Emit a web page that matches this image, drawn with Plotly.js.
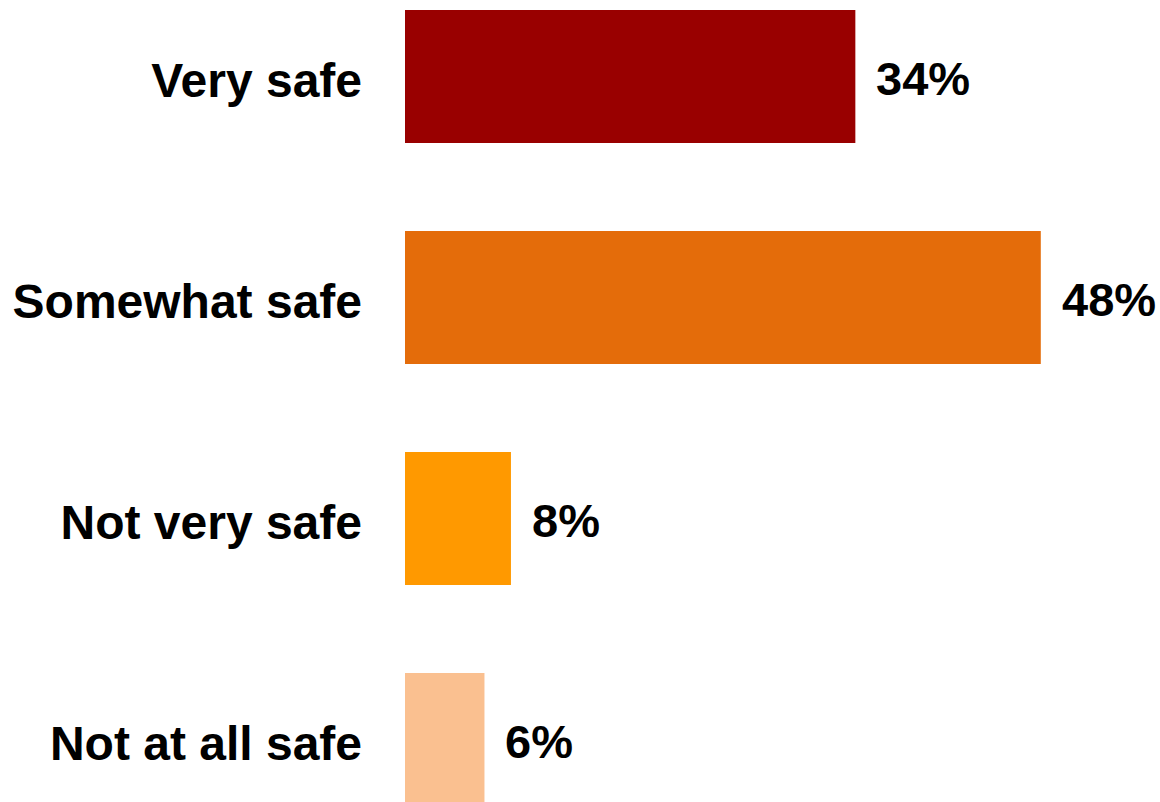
<!DOCTYPE html>
<html>
<head>
<meta charset="utf-8">
<script src="https://cdn.plot.ly/plotly-3.0.1.min.js"></script>
<style>html,body{margin:0;padding:0;background:#fff;}</style>
</head>
<body>
<div id="chart" style="width:1160px;height:802px;"></div>
<script>
const categories = ["Very safe", "Somewhat safe", "Not very safe", "Not at all safe"];
const values = [34, 48, 8, 6];
const barColors = ["#990000", "#E46C0A", "#FF9900", "#FAC090"];

const fontFam = '"Liberation Sans", Arial, Helvetica, sans-serif';

const trace = {
  type: 'bar',
  orientation: 'h',
  x: values,
  y: categories,
  marker: {color: barColors, line: {width: 0}},
  hoverinfo: 'none'
};

const annotations = categories.map((c, i) => ({
  x: values[i],
  y: c,
  xref: 'x',
  yref: 'y',
  text: values[i] + '%',
  showarrow: false,
  xanchor: 'left',
  yanchor: 'middle',
  xshift: 19,
  yshift: -2,
  font: {family: fontFam, size: 47, color: '#000', weight: 700}
}));

const layout = {
  width: 1160,
  height: 802,
  margin: {l: 405, r: 0, t: 0, b: 0, pad: 0},
  paper_bgcolor: '#fff',
  plot_bgcolor: '#fff',
  showlegend: false,
  bargap: 0.398,
  xaxis: {
    range: [0, 57],
    visible: false,
    showgrid: false,
    zeroline: false
  },
  yaxis: {
    type: 'category',
    categoryorder: 'array',
    categoryarray: categories,
    range: [3.283, -0.346],
    showgrid: false,
    zeroline: false,
    showline: false,
    ticks: '',
    ticklabelstandoff: 42,
    ticklabelshift: -4,
    tickfont: {family: fontFam, size: 48, color: '#000', weight: 700}
  },
  annotations: annotations
};

Plotly.newPlot('chart', [trace], layout, {displayModeBar: false, staticPlot: true});
</script>
</body>
</html>
